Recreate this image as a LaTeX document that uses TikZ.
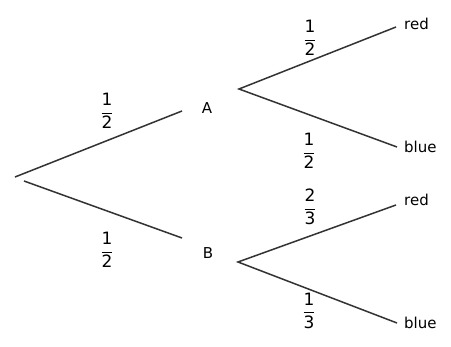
\documentclass[tikz,border=0pt]{standalone}
\usepackage{fontspec}
\setmainfont{DejaVu Sans}
\newcommand\myfr[2]{$\displaystyle{\hbox{#1}\over\hbox{#2}}$}
\begin{document}
\begin{tikzpicture}[x=1pt,y=-1pt,
  br/.style={draw=black!80,line width=1.5pt},
  lbl/.style={font=\fontsize{15}{17}\selectfont,inner sep=1pt},
  frc/.style={font=\fontsize{17}{19}\selectfont,inner sep=0pt}]
\useasboundingbox[fill=white] (0,0) rectangle (451,347);
% coordinates
\coordinate (root) at (15,177);
\coordinate (rootb) at (24,181);
\coordinate (eA) at (182,111);
\coordinate (eB) at (182,238);
\coordinate (sA) at (239,89);
\coordinate (sB) at (238,262);
\coordinate (eAr) at (396,27);
\coordinate (eAb) at (397,147);
\coordinate (eBr) at (396,205);
\coordinate (eBb) at (397,323);
% nodes
\node[lbl] (A) at (207,108) {A};
\node[lbl] (B) at (208,253) {B};
\node[lbl,anchor=west] (r1) at (403,24) {red};
\node[lbl,anchor=west] (b1) at (403,147) {blue};
\node[lbl,anchor=west] (r2) at (403,200) {red};
\node[lbl,anchor=west] (b2) at (403,323) {blue};
% branches
\draw[br] (root) -- (eA);
\draw[br] (rootb) -- (eB);
\draw[br] (eAr) -- (sA) -- (eAb);
\draw[br] (eBr) -- (sB) -- (eBb);
% fractions
\node[frc] (f1) at (107,111) {\myfr{1}{2}};
\node[frc] (f2) at (107,250) {\myfr{1}{2}};
\node[frc] (f3) at (310,38) {\myfr{1}{2}};
\node[frc] (f4) at (309,151) {\myfr{1}{2}};
\node[frc] (f5) at (310,207) {\myfr{2}{3}};
\node[frc] (f6) at (309,311) {\myfr{1}{3}};
\end{tikzpicture}
\end{document}
